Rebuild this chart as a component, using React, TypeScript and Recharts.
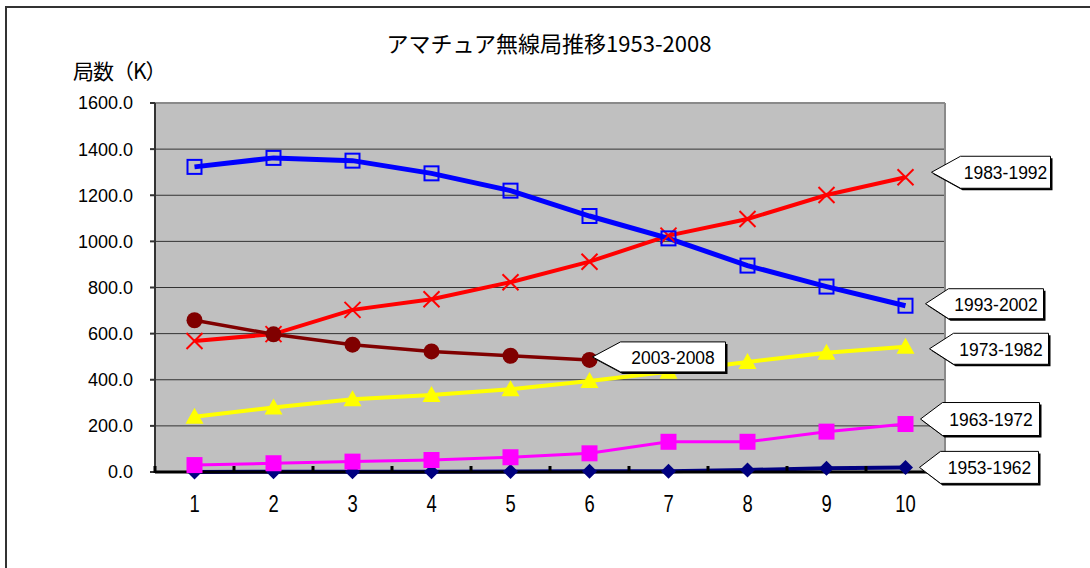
import React from 'react';
import { LineChart, Line, XAxis, YAxis, CartesianGrid, ReferenceLine, LabelList } from 'recharts';

const categories = [1, 2, 3, 4, 5, 6, 7, 8, 9, 10];
const s1953 = [0.5, 0.8, 1.0, 1.5, 2, 3, 3, 9, 16, 20];
const s1963 = [30, 38, 45, 52, 64, 81, 131, 131, 175, 208];
const s1973 = [240, 280, 315, 334, 359, 395, 435, 477, 517, 543];
const s1983 = [568, 598, 703, 749, 823, 912, 1025, 1097, 1201, 1278];
const s1993 = [1323, 1362, 1350, 1295, 1220, 1110, 1013, 895, 804, 721];
const s2003 = [658, 597, 552, 523, 504, 486];
const seriesNames = ['1953-1962', '1963-1972', '1973-1982', '1983-1992', '1993-2002', '2003-2008'];
const yTicks = [0, 200, 400, 600, 800, 1000, 1200, 1400, 1600];
const boundaryTicks = [0.5, 1.5, 2.5, 3.5, 4.5, 5.5, 6.5, 7.5, 8.5, 9.5, 10.5];
const titleText = 'アマチュア無線局推移1953-2008';
const yLabelText = '局数（K）';

const xTicks = [...boundaryTicks, ...categories].sort((p, q) => p - q);

const data = categories.map((c, i) => ({
  x: c,
  a: s1953[i],
  b: s1963[i],
  c: s1973[i],
  d: s1983[i],
  e: s1993[i],
  f: i < s2003.length ? s2003[i] : null,
}));

const calloutStyle: Record<string, { dx: number; dy: number; arrow: number; w: number; h: number }> = {
  a: { dx: 14, dy: 0, arrow: 21, w: 98, h: 32 },
  b: { dx: 15, dy: -5, arrow: 22, w: 97, h: 33 },
  c: { dx: 24, dy: 2, arrow: 24, w: 95, h: 31 },
  d: { dx: 26, dy: -5, arrow: 29, w: 90, h: 32 },
  e: { dx: 20, dy: -2, arrow: 23, w: 95, h: 30 },
  f: { dx: 3, dy: -3, arrow: 28, w: 105, h: 30 },
};

const makeCallout = (key: string, name: string, lastIndex: number) => (props: any) => {
  const { x, y, index } = props;
  if (index !== lastIndex || x == null || y == null) return null;
  const st = calloutStyle[key];
  const tx = x + st.dx;
  const ty = y + st.dy;
  const l = tx + st.arrow;
  const r = l + st.w;
  const t = ty - st.h / 2;
  const b = ty + st.h / 2;
  const pts = `${tx},${ty} ${l},${t} ${r},${t} ${r},${b} ${l},${b}`;
  const spts = `${tx + 2},${ty + 2} ${l + 2},${t + 2} ${r + 2},${t + 2} ${r + 2},${b + 2} ${l + 2},${b + 2}`;
  return (
    <g key={`callout-${key}`}>
      <polygon points={spts} fill="#000" />
      <polygon points={pts} fill="#fff" stroke="#000" strokeWidth={1} />
      <text transform={`translate(${(l + r) / 2},${ty}) scale(0.92,1)`} dy="0.36em" textAnchor="middle" fontSize={19} fontFamily="Liberation Sans, Arial, sans-serif" fill="#000">
        {name}
      </text>
    </g>
  );
};

const diamondDot = (p: any) => {
  const { cx, cy, index } = p;
  if (cx == null || cy == null) return <g key={`da-${index}`} />;
  const s = 7.5;
  return <polygon key={`da-${index}`} points={`${cx},${cy - s} ${cx + s},${cy} ${cx},${cy + s} ${cx - s},${cy}`} fill="#000080" />;
};
const magentaDot = (p: any) => {
  const { cx, cy, index } = p;
  if (cx == null || cy == null) return <g key={`db-${index}`} />;
  return <rect key={`db-${index}`} x={cx - 8} y={cy - 8} width={16} height={16} fill="#FF00FF" />;
};
const triDot = (p: any) => {
  const { cx, cy, index } = p;
  if (cx == null || cy == null) return <g key={`dc-${index}`} />;
  return <polygon key={`dc-${index}`} points={`${cx},${cy - 9} ${cx + 9},${cy + 7} ${cx - 9},${cy + 7}`} fill="#FFFF00" />;
};
const crossDot = (p: any) => {
  const { cx, cy, index } = p;
  if (cx == null || cy == null) return <g key={`dd-${index}`} />;
  const s = 8;
  return (
    <g key={`dd-${index}`} stroke="#FF0000" strokeWidth={2}>
      <line x1={cx - s} y1={cy - s} x2={cx + s} y2={cy + s} />
      <line x1={cx - s} y1={cy + s} x2={cx + s} y2={cy - s} />
    </g>
  );
};
const hollowSquareDot = (p: any) => {
  const { cx, cy, index } = p;
  if (cx == null || cy == null) return <g key={`de-${index}`} />;
  return <rect key={`de-${index}`} x={cx - 7} y={cy - 7} width={14} height={14} fill="none" stroke="#0000FF" strokeWidth={2} />;
};
const circleDot = (p: any) => {
  const { cx, cy, index } = p;
  if (cx == null || cy == null) return <g key={`df-${index}`} />;
  return <circle key={`df-${index}`} cx={cx} cy={cy} r={8} fill="#800000" />;
};

const XTick = (props: any) => {
  const { x, y, payload } = props;
  const v = payload.value;
  if (!Number.isInteger(v)) {
    return <line x1={x} x2={x} y1={y - 6} y2={y + 1} stroke="#000" strokeWidth={3} />;
  }
  return (
    <text transform={`translate(${x},${y + 40}) scale(0.8,1)`} textAnchor="middle" fontSize={23} fontFamily="Liberation Sans, Arial, sans-serif" fill="#000">
      {v}
    </text>
  );
};

export default function App() {
  return (
    <div style={{ position: 'absolute', left: 0, top: 0, width: 1090, height: 568, overflow: 'hidden', background: '#fff' }}>
      <div style={{ position: 'absolute', left: 5, top: 6, width: 1120, height: 700, border: '2px solid #333' }} />
      <div style={{ position: 'absolute', left: 0, top: 31, width: 1098, textAlign: 'center', fontSize: 22, lineHeight: '22px', fontFamily: '"Noto Sans CJK JP", sans-serif', color: '#000' }}>
        {titleText}
      </div>
      <div style={{ position: 'absolute', left: 73, top: 60, fontSize: 21, lineHeight: '21px', fontFamily: '"Noto Sans CJK JP", sans-serif', color: '#000', letterSpacing: -1 }}>
        {yLabelText}
      </div>
      <div style={{ position: 'absolute', left: 0, top: 0 }}>
        <LineChart width={1090} height={568} data={data} margin={{ top: 103, right: 145, bottom: 66, left: 0 }}>
          <CartesianGrid vertical={false} stroke="#333" fill="#C0C0C0" fillOpacity={1} />
          <XAxis
            type="number"
            dataKey="x"
            domain={[0.5, 10.5]}
            ticks={xTicks}
            tickLine={false}
            tickSize={0}
            tickMargin={0}
            height={30}
            axisLine={{ stroke: '#000', strokeWidth: 3 }}
            tick={<XTick />}
            interval={0}
          />
          <YAxis
            type="number"
            domain={[0, 1600]}
            ticks={yTicks}
            width={155}
            tickSize={5}
            tickMargin={17}
            interval={0}
            axisLine={{ stroke: '#333', strokeWidth: 2 }}
            tickLine={{ stroke: '#333', strokeWidth: 2 }}
            tickFormatter={(v: number) => v.toFixed(1)}
            tick={{ fontSize: 18, fill: '#000', fontFamily: 'Liberation Sans, Arial, sans-serif' }}
          />
          <ReferenceLine y={1600} stroke="#8a8a8a" strokeWidth={2} />
          <ReferenceLine x={10.5} stroke="#8a8a8a" strokeWidth={2} />
          <Line dataKey="a" stroke="#000080" strokeWidth={4} dot={diamondDot} isAnimationActive={false}>
            <LabelList dataKey="a" content={makeCallout('a', seriesNames[0], 9)} />
          </Line>
          <Line dataKey="b" stroke="#FF00FF" strokeWidth={3} dot={magentaDot} isAnimationActive={false}>
            <LabelList dataKey="b" content={makeCallout('b', seriesNames[1], 9)} />
          </Line>
          <Line dataKey="c" stroke="#FFFF00" strokeWidth={4} dot={triDot} isAnimationActive={false}>
            <LabelList dataKey="c" content={makeCallout('c', seriesNames[2], 9)} />
          </Line>
          <Line dataKey="d" stroke="#FF0000" strokeWidth={4} dot={crossDot} isAnimationActive={false}>
            <LabelList dataKey="d" content={makeCallout('d', seriesNames[3], 9)} />
          </Line>
          <Line dataKey="e" stroke="#0000FF" strokeWidth={5} dot={hollowSquareDot} isAnimationActive={false}>
            <LabelList dataKey="e" content={makeCallout('e', seriesNames[4], 9)} />
          </Line>
          <Line dataKey="f" stroke="#800000" strokeWidth={3.5} dot={circleDot} isAnimationActive={false}>
            <LabelList dataKey="f" content={makeCallout('f', seriesNames[5], 5)} />
          </Line>
        </LineChart>
      </div>
    </div>
  );
}
